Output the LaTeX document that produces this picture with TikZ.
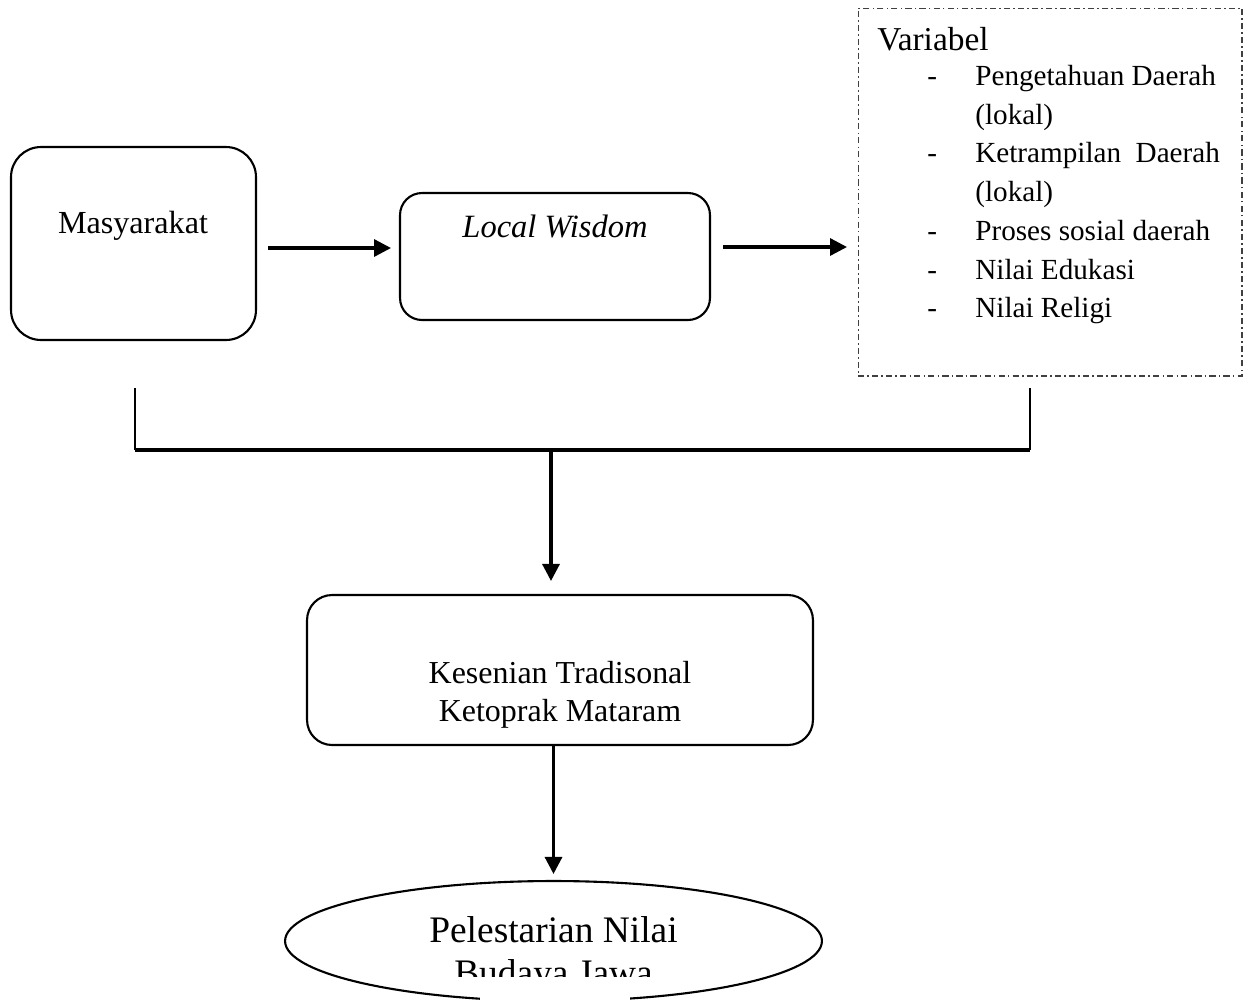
\documentclass[tikz,border=0pt]{standalone}
\usepackage{fontspec}
\setmainfont{Liberation Serif}
\usetikzlibrary{arrows.meta,shapes.geometric,calc}
\tikzset{
  rbox/.style={draw, line width=1.2pt, rounded corners=#1, inner sep=0pt},
  arr/.style={line width=1.8pt, -{Triangle[length=0.34cm,width=0.34cm]}},
  txt/.style={anchor=base, inner sep=0pt, font=\fontsize{18.3}{22}\selectfont},
  itm/.style={anchor=base west, inner sep=0pt, font=\fontsize{16.6}{22}\selectfont},
  dashbox/.style={draw=black!75, line width=0.6pt, dash pattern=on 3.5pt off 1.8pt on 0.9pt off 1.8pt},
  brk/.style={line width=0.9pt},
}
\begin{document}
\begin{tikzpicture}[x=0.02cm, y=-0.02cm]
\useasboundingbox (0,0) rectangle (1248,1002);
% boxes
\node[rbox=0.6cm, minimum width=4.9cm, minimum height=3.86cm] (masy) at (133.5,243.5) {};
\node[rbox=0.44cm, minimum width=6.2cm, minimum height=2.54cm] (lw) at (555,256.5) {};
\node[dashbox, inner sep=0pt, minimum width=7.68cm, minimum height=7.36cm] (var) at (1050,192) {};
\node[rbox=0.5cm, minimum width=10.12cm, minimum height=3.0cm] (ks) at (560,670) {};
\node[draw, ellipse, line width=1.2pt, inner sep=0pt, minimum width=10.74cm, minimum height=2.4cm] (pel) at (553.5,941) {};
% texts
\node[txt] (tmasy) at (133,233) {Masyarakat};
\node[txt, font=\fontsize{18.5}{22}\selectfont] (tlw) at (555,237) {\itshape Local Wisdom};
\node[anchor=base west, inner sep=0pt, font=\fontsize{19}{22}\selectfont] (tvar) at (877,50) {Variabel};
\foreach \y/\t/\d [count=\i] in {85/Pengetahuan Daerah/1, 124/(lokal)/0, 162/Ketrampilan\ \ Daerah/1, 201/(lokal)/0, 240/Proses sosial daerah/1, 279/Nilai Edukasi/1, 317/Nilai Religi/1}{
  \node[itm] (it\i) at (975,\y) {\t};
  \ifnum\d=1 \node[itm] (dash\i) at (927,\y) {-};\fi
}
\node[txt, font=\fontsize{18.2}{22}\selectfont] (tks1) at (560,683) {Kesenian Tradisonal};
\node[txt, font=\fontsize{18.2}{22}\selectfont] (tks2) at (560,721) {Ketoprak Mataram};
\begin{scope}
\clip (0,0) rectangle (1248,976);
\node[anchor=base, inner sep=0pt, font=\fontsize{21.3}{24}\selectfont] (tpel1) at (553.5,942) {Pelestarian Nilai};
\node[anchor=base, inner sep=0pt, font=\fontsize{21.3}{24}\selectfont] (tpel2) at (553.5,985) {Budaya Jawa};
\end{scope}
\fill[white] (480,977) rectangle (630,1003);
% horizontal arrows
\draw[arr] (masy.east) ++(11,4.5) -- ++(123,0);
\draw[arr] (lw.east) ++(12,-9.5) -- ++(124,0);
% bracket
\coordinate (bl) at (135,388);
\coordinate (br) at (1030,388);
\coordinate (bj) at (551,450);
\draw[brk] (bl) -- (bl |- bj);
\draw[brk] (br) -- (br |- bj);
\draw[line width=1.8pt] (bl |- bj) -- (br |- bj);
\draw[arr, shorten >=13*0.02cm] (bj) -- (bj |- ks.north);
\draw[arr, shorten >=6*0.02cm] (ks.south -| pel.north) -- (pel.north);
\end{tikzpicture}
\end{document}
